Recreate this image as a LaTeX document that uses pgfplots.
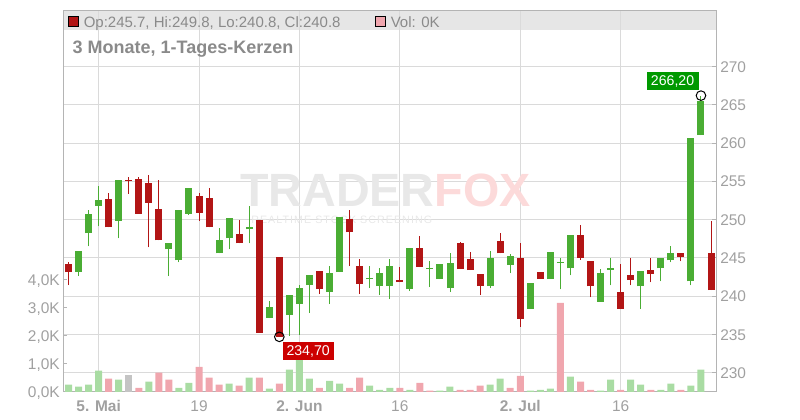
\documentclass[border=0pt]{standalone}
\usepackage{fontspec}
\setmainfont{Liberation Sans}
\usepackage{pgfplots}
\pgfplotsset{compat=1.18}
\usepackage{pgfplotstable}

\definecolor{cgreen}{HTML}{4AAD34}
\definecolor{cred}{HTML}{B21515}
\definecolor{vgreen}{HTML}{A9DCA3}
\definecolor{vpink}{HTML}{F0A6AE}
\definecolor{vgray}{HTML}{C4C4C4}
\definecolor{gridgray}{HTML}{DADADA}
\definecolor{axisgray}{HTML}{B4B4B4}
\definecolor{labelgray}{HTML}{A0A0A0}
\definecolor{textgray}{HTML}{8A8A8A}
\definecolor{bandgray}{HTML}{E6E6E6}
\definecolor{lblgreen}{HTML}{009900}
\definecolor{lblred}{HTML}{CC0000}
\definecolor{wmgray}{HTML}{E8E8E8}
\definecolor{wmpink}{HTML}{FCDADA}

% daily candles: index, open, high, low, close
\pgfplotstableread{
i o h l c
1 243.14 245.95 242.62 245.95
2 248.20 251.28 246.52 250.76
3 251.84 254.39 249.11 252.58
5 249.89 255.17 247.55 255.17
10 246.13 246.99 242.62 246.99
11 244.70 251.28 244.44 251.28
12 250.80 254.13 250.63 254.13
15 245.60 248.94 245.60 247.38
16 247.55 250.24 246.13 250.24
18 248.72 251.80 246.90 249.07
20 237.16 239.33 237.16 238.55
22 237.55 240.11 234.87 240.11
23 238.98 241.41 235.00 241.02
24 241.45 242.84 237.81 242.84
26 240.54 244.00 238.98 243.10
27 243.14 250.37 243.14 250.37
30 242.19 244.00 241.06 242.36
31 241.32 243.74 240.15 243.10
32 241.32 244.91 239.63 244.00
34 240.93 246.34 240.67 246.34
36 243.53 244.65 241.19 243.66
37 242.23 244.26 242.23 244.26
38 241.06 245.69 240.54 244.39
42 241.32 245.95 241.06 245.04
44 244.05 245.56 243.01 245.30
46 238.33 241.67 238.33 241.67
48 242.23 245.82 242.23 245.82
49 244.33 244.98 240.91 244.46
50 243.64 248.05 242.73 248.05
53 239.26 243.51 239.26 242.99
54 243.42 244.94 241.43 243.64
57 241.30 243.25 238.35 243.25
59 243.64 245.06 241.95 245.06
60 244.68 246.62 244.42 245.71
62 241.95 260.65 241.43 260.65
63 261.04 266.20 261.04 265.50
}\greendata

\pgfplotstableread{
i o h l c
0 244.26 244.52 241.45 243.14
4 252.70 253.48 248.98 248.98
6 255.17 255.56 253.40 255.05
7 255.30 255.56 250.80 250.80
8 254.78 255.82 246.39 252.23
9 251.41 255.17 247.29 247.29
13 253.10 253.48 249.85 250.93
14 252.84 254.13 248.98 248.98
17 248.16 249.98 246.90 246.90
19 249.98 249.98 235.22 235.22
21 245.17 245.17 234.70 234.70
25 243.35 243.35 240.28 240.93
28 250.11 251.28 243.92 248.33
29 244.00 244.91 240.28 241.58
33 242.06 243.87 241.84 241.84
35 246.34 247.90 243.79 243.79
39 246.99 247.12 243.53 243.53
40 244.91 245.82 243.40 243.40
41 242.97 242.97 240.15 241.32
43 247.25 248.29 245.60 245.60
45 245.04 246.99 236.00 237.03
47 243.23 243.23 242.23 242.23
51 248.05 249.26 244.80 245.06
52 244.55 244.55 239.87 241.30
55 240.52 244.16 238.35 238.35
56 242.73 244.94 241.43 242.10
58 243.38 244.94 241.82 242.90
61 245.71 245.71 244.55 245.19
64 245.70 249.80 240.80 240.80
}\reddata

% volume in thousands
\pgfplotstableread{
i v
0 0.26
1 0.19
2 0.26
3 0.76
5 0.44
8 0.37
11 0.15
12 0.33
16 0.30
18 0.51
20 0.12
22 0.80
23 1.15
24 0.48
26 0.40
27 0.30
30 0.23
31 0.08
32 0.15
34 0.08
37 0.05
38 0.19
42 0.26
43 0.48
46 0.05
47 0.08
48 0.12
50 0.55
53 0.05
54 0.44
56 0.44
57 0.26
59 0.08
60 0.30
62 0.23
63 0.80
}\volgreen

\pgfplotstableread{
i v
4 0.48
7 0.15
9 0.69
10 0.44
13 0.90
14 0.51
15 0.26
17 0.23
19 0.51
21 0.30
25 0.15
28 0.15
29 0.51
33 0.15
35 0.33
36 0.05
39 0.08
40 0.08
41 0.23
44 0.15
45 0.58
49 3.18
51 0.37
52 0.08
55 0.08
58 0.08
61 0.08
}\volpink

\pgfplotstableread{
i v
6 0.62
}\volgray

\pgfplotsset{
  chartbox/.style={
    at={(47.625pt,21pt)}, anchor=south west,
    scale only axis, width=489.4pt, height=285.75pt,
    xmin=-0.5, xmax=64.5,
  },
  tickfont/.style={font=\fontsize{11.6}{13}\selectfont, text=labelgray, inner sep=0pt},
  wick/.style={draw=none, mark=none, forget plot,
    error bars/.cd, y dir=plus, y explicit, error mark=none,
    error bar style={draw=#1, line width=0.75pt}},
  body/.style={draw=none, mark=none, forget plot,
    error bars/.cd, y dir=plus, y explicit, error mark=none,
    error bar style={draw=#1, line width=5.25pt}},
}

\begin{document}
\begin{tikzpicture}[x=0.75pt, y=0.75pt]
\useasboundingbox (0,0) rectangle (800,420);

% header band
\fill[bandgray] (63.5,390) rectangle (716,409);

% frame, grid and price ticks
\begin{axis}[chartbox,
  ymin=227.5, ymax=277.25,
  axis line style={draw=axisgray, line width=0.75pt},
  xtick={3,13,23,33,45,55},
  xticklabels={\textbf{5. Mai},19,\textbf{2. Jun},16,\textbf{2. Jul},16},
  xtick style={draw=none},
  ytick={230,235,...,270},
  yticklabels={230,235,240,245,250,255,260,265,270},
  ytick pos=right, yticklabel pos=right,
  ytick style={draw=axisgray, line width=0.75pt},
  tick align=inside, major tick length=3pt,
  grid=major, major grid style={draw=gridgray, line width=0.75pt},
  ticklabel style={tickfont},
  yticklabel style={anchor=base west, xshift=3pt, yshift=-4.15pt},
  xticklabel style={anchor=base, yshift=-15pt},
]
\end{axis}

% watermark
\node[anchor=base west, inner sep=0pt, text=wmgray, font=\fontsize{35}{35}\bfseries\selectfont]
  at (240,213) {TRADER\textcolor{wmpink}{FOX}};
\node[anchor=base west, inner sep=0pt, text=wmgray, font=\fontsize{8}{9}\selectfont\addfontfeatures{LetterSpace=10}]
  at (251,196) {REALTIME STOCK SCREENING};

% volume
\begin{axis}[chartbox,
  ymin=0, ymax=13.607,
  axis line style={draw=none},
  xtick=\empty,
  ytick={0,1,2,3,4},
  yticklabels={{0,0K},{1,0K},{2,0K},{3,0K},{4,0K}},
  ytick pos=left,
  ytick style={draw=axisgray, line width=0.75pt},
  tick align=inside, major tick length=3pt,
  ticklabel style={tickfont},
  yticklabel style={anchor=base east, xshift=-2.6pt, yshift=-4.15pt},
  ybar, bar width=5.25pt,
]
\addplot[fill=vgreen, draw=none, bar shift=0pt] table[x=i, y=v] {\volgreen};
\addplot[fill=vpink, draw=none, bar shift=0pt] table[x=i, y=v] {\volpink};
\addplot[fill=vgray, draw=none, bar shift=0pt] table[x=i, y=v] {\volgray};
\end{axis}

% candles
\begin{axis}[chartbox, ymin=227.5, ymax=277.25, hide axis]
\addplot[wick=cgreen] table[x=i, y=l, y error expr=\thisrow{h}-\thisrow{l}] {\greendata};
\addplot[body=cgreen] table[x=i, y=o, y error expr=\thisrow{c}-\thisrow{o}] {\greendata};
\addplot[wick=cred] table[x=i, y=l, y error expr=\thisrow{h}-\thisrow{l}] {\reddata};
\addplot[body=cred] table[x=i, y=c, y error expr=\thisrow{o}-\thisrow{c}] {\reddata};
\addplot[only marks, mark=o, mark size=3.6pt, mark options={draw=black, line width=0.75pt}]
  coordinates {(63,266.2) (21,234.7)};
\node[anchor=south east, fill=lblgreen, text=white, inner sep=0pt,
  minimum width=39pt, minimum height=13.9pt, font=\fontsize{10.6}{12}\selectfont,
  xshift=-1.6pt, yshift=3.75pt] at (axis cs:63,266.2) {266,20};
\node[anchor=north west, fill=lblred, text=white, inner sep=0pt,
  minimum width=38.3pt, minimum height=13.5pt, font=\fontsize{10.6}{12}\selectfont,
  xshift=2.25pt, yshift=-3.75pt] at (axis cs:21,234.7) {234,70};
\end{axis}

% header
\filldraw[fill=cred, draw=black, line width=0.75pt] (68.5,403.5) rectangle (78.5,393.5);
\node[anchor=base west, inner sep=0pt, text=textgray, font=\fontsize{11.25}{13}\selectfont]
  at (83.5,392.7) {Op:245.7, Hi:249.8, Lo:240.8, Cl:240.8};
\filldraw[fill=vpink, draw=black, line width=0.75pt] (375,403.5) rectangle (385,393.5);
\node[anchor=base west, inner sep=0pt, text=textgray, font=\fontsize{11.25}{13}\selectfont]
  at (390.5,392.7) {Vol: 0K};
\node[anchor=base west, inner sep=0pt, text=textgray, font=\fontsize{13.5}{15}\bfseries\selectfont]
  at (72.3,366.7) {3 Monate, 1-Tages-Kerzen};
\end{tikzpicture}
\end{document}
